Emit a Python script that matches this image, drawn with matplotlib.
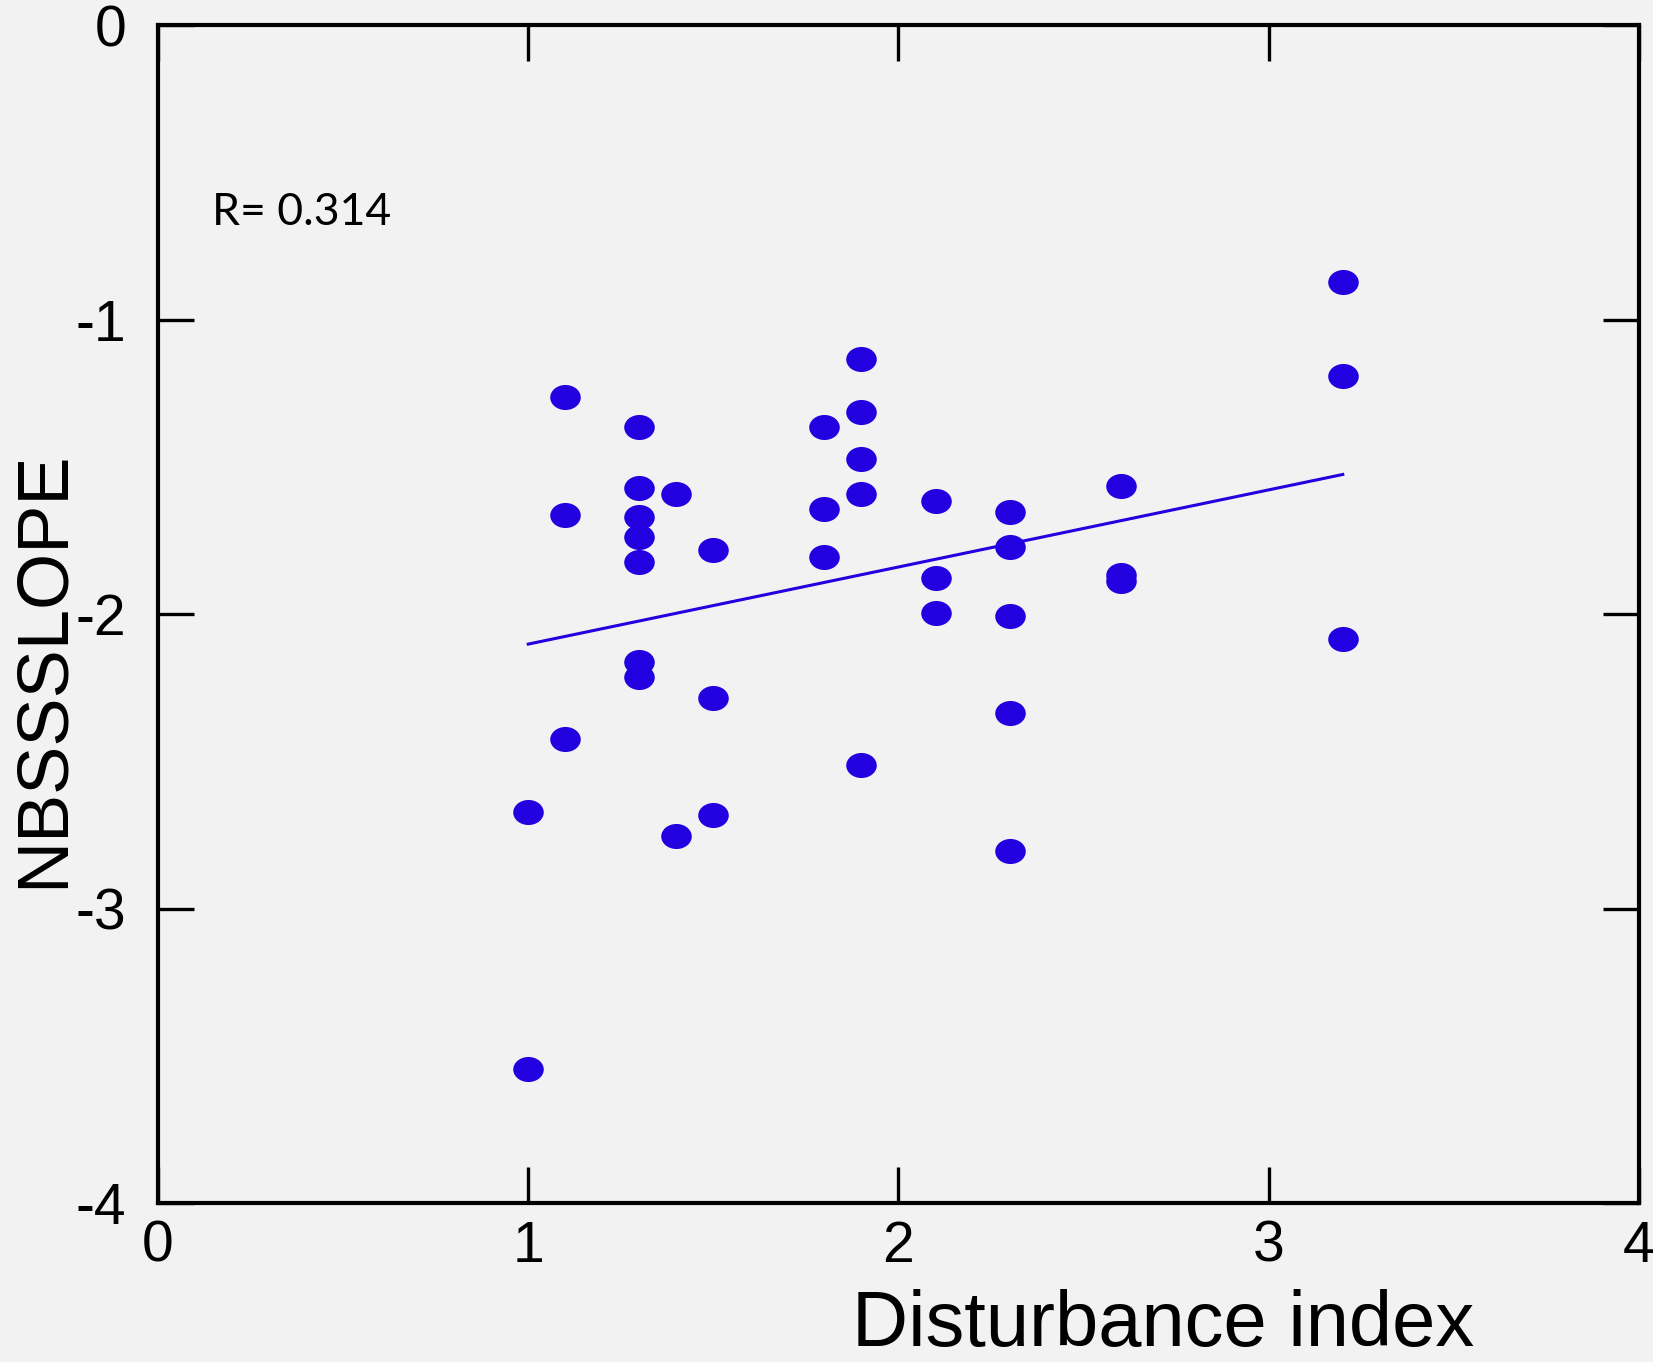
"""Scatter of NBSS slope against disturbance index with a linear fit."""

import matplotlib

matplotlib.use("Agg")
import matplotlib.pyplot as plt
import numpy as np
from matplotlib.path import Path


OUTPUT_PATH = "out.png"

# Disturbance index of each station
disturbance = [
    1.0, 1.0,
    1.1, 1.1, 1.1,
    1.3, 1.3, 1.3, 1.3, 1.3, 1.3, 1.3,
    1.4, 1.4,
    1.5, 1.5, 1.5,
    1.8, 1.8, 1.8,
    1.9, 1.9, 1.9, 1.9, 1.9,
    2.1, 2.1, 2.1,
    2.3, 2.3, 2.3, 2.3, 2.3,
    2.6, 2.6, 2.6,
    3.2, 3.2, 3.2,
]

# Normalised biomass size spectrum slope
nbss_slope = [
    -2.671, -3.545,
    -1.264, -1.662, -2.424,
    -1.364, -1.572, -1.672, -1.737, -1.823, -2.163, -2.213,
    -1.594, -2.754,
    -1.783, -2.285, -2.682,
    -1.364, -1.644, -1.805,
    -1.135, -1.314, -1.475, -1.594, -2.514,
    -1.615, -1.876, -1.995,
    -1.654, -1.773, -2.005, -2.335, -2.804,
    -1.565, -1.866, -1.887,
    -0.874, -1.192, -2.084,
]

# Regression line end points
fit_x = [1.0, 3.2]
fit_y = [-2.102, -1.526]

r_label = "R= 0.314"
x_ticks = [0, 1, 2, 3, 4]
y_ticks = [0, -1, -2, -3, -4]

POINT_COLOR = "#2300E0"
BACKGROUND = "#F2F2F2"


def ellipse_marker(aspect: float) -> Path:
    """Return a filled ellipse path, wider than tall."""
    circle = Path.unit_circle()
    verts = circle.vertices * np.array([1.0, aspect])
    return Path(verts, circle.codes)


def create_plot() -> None:
    fig = plt.figure(figsize=(16.53, 13.62), dpi=100, facecolor=BACKGROUND)
    ax = fig.add_axes([0.0956, 0.1167, 0.8959, 0.8649])
    ax.set_facecolor(BACKGROUND)

    ax.plot(
        disturbance,
        nbss_slope,
        linestyle="none",
        marker=ellipse_marker(0.82),
        markersize=22,
        markerfacecolor=POINT_COLOR,
        markeredgewidth=0,
    )
    ax.plot(fit_x, fit_y, color=POINT_COLOR, linewidth=2.2)

    ax.set_xlim(0, 4)
    ax.set_ylim(-4, 0)
    ax.set_xticks(x_ticks)
    ax.set_yticks(y_ticks)
    ax.set_xticklabels([str(t) for t in x_ticks])
    ax.set_yticklabels([str(t) for t in y_ticks])

    for spine in ax.spines.values():
        spine.set_linewidth(3)
        spine.set_color("black")

    ax.tick_params(
        axis="both",
        direction="in",
        length=26,
        width=2.4,
        top=True,
        right=True,
        labelsize=41,
    )
    ax.tick_params(axis="x", pad=12)
    ax.tick_params(axis="y", pad=23)
    for label in ax.get_xticklabels() + ax.get_yticklabels():
        label.set_fontfamily("Liberation Sans")

    ax.text(
        0.146, -0.679, r_label,
        fontsize=32, fontfamily="Lato", ha="left", va="baseline",
    )

    fig.text(
        0.7036, 0.012, "Disturbance index",
        fontsize=56, fontfamily="Liberation Sans", ha="center", va="baseline",
    )
    fig.text(
        0.0266, 0.5086, "NBSSSLOPE",
        fontsize=52, fontfamily="Liberation Sans", rotation=90,
        ha="center", va="center",
    )

    fig.savefig(OUTPUT_PATH, dpi=100, facecolor=BACKGROUND)
    plt.close(fig)


if __name__ == "__main__":
    create_plot()
